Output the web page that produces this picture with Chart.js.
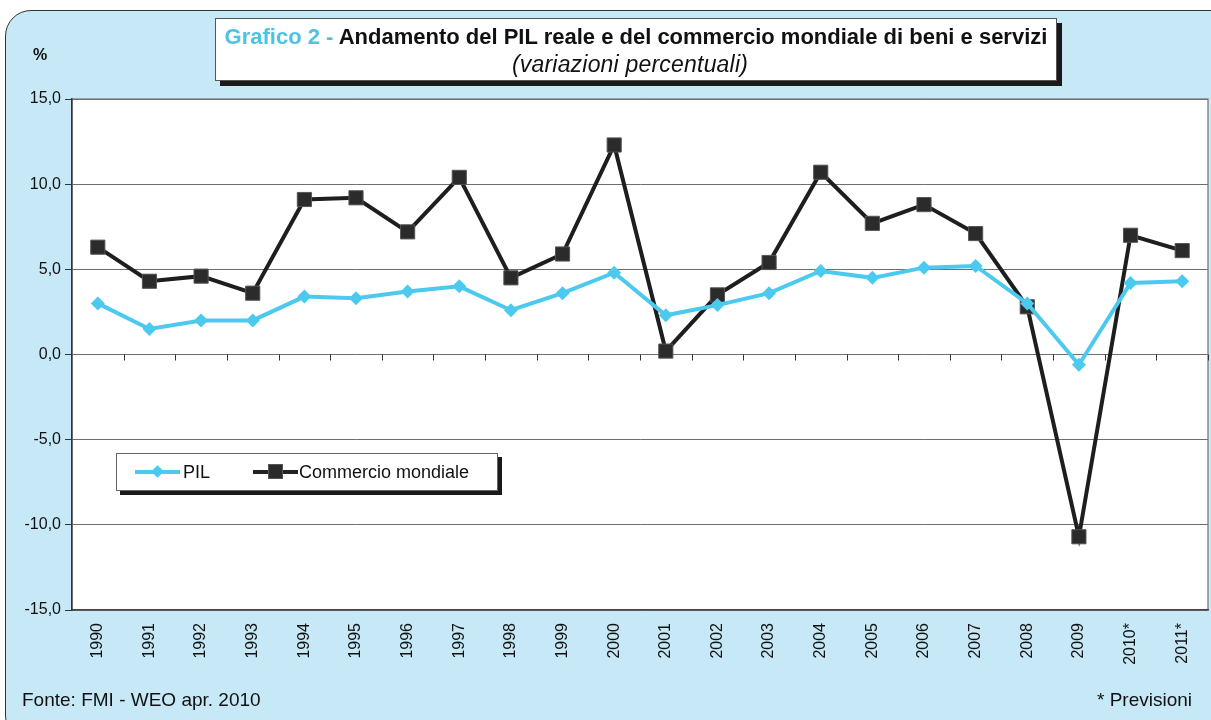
<!DOCTYPE html>
<html lang="it">
<head>
  <meta charset="UTF-8" />
  <title>Grafico 2 - PIL e commercio mondiale</title>
  <script src="https://cdn.jsdelivr.net/npm/chart.js"></script>
  <style>
    html, body { margin: 0; padding: 0; background: #fff; }
    body { width: 1211px; height: 720px; position: relative; overflow: hidden; font-family: "Liberation Sans", Arial, sans-serif; }
    .panel { position: absolute; left: 5px; top: 10px; width: 1230px; height: 730px; background: #c6e8f7; border: 1px solid #333; border-radius: 26px; }
    #wrap { position: absolute; left: 0; top: 0; width: 1219px; height: 720px; }
    .titlebox { position: absolute; left: 215px; top: 18px; width: 840px; height: 61px; background: #fff; border: 1px solid #555; box-shadow: 5px 5px 0 #1a1a1a; text-align: center; }
    .t1 { font-weight: bold; font-size: 22px; margin-top: 5px; color: #111; letter-spacing: 0px; }
    .t1 span { color: #4cc3e4; }
    .t2 { font-style: italic; font-size: 23px; margin-top: 1px; padding-right: 12px; color: #111; letter-spacing: 0.2px; }
    .pct { position: absolute; left: 33px; top: 46px; font-size: 16px; font-weight: bold; color: #111; }
    .fonte { position: absolute; left: 22px; top: 689px; font-size: 19px; color: #111; }
    .prev { position: absolute; right: 19px; top: 689px; font-size: 19px; color: #111; }
    .legend { position: absolute; left: 116px; top: 453px; width: 380px; height: 36px; background: #fff; border: 1px solid #666; box-shadow: 4px 4px 0 #1a1a1a; font-size: 18px; color: #111; }
    .lg { position: absolute; top: 0; height: 36px; line-height: 36px; }
    .ln { position: absolute; top: 16px; height: 4px; width: 45px; }
    .dia { position: absolute; width: 9px; height: 9px; background: #4cc9ef; transform: rotate(45deg); top: -3px; left: 18px; }
    .sq { position: absolute; width: 13px; height: 13px; background: #2b2b2b; border: 1px solid #555; top: -6px; left: 15px; }
  </style>
</head>
<body>
  <div class="panel"></div>
  <div id="wrap"><canvas id="grafico" width="1219" height="720"></canvas></div>
  <div class="pct">%</div>
  <div class="titlebox">
    <div class="t1"><span>Grafico 2 -</span> Andamento del PIL reale e del commercio mondiale di beni e servizi</div>
    <div class="t2">(variazioni percentuali)</div>
  </div>
  <div class="legend">
    <div class="ln" style="left:18px;background:#4cc9ef;"><div class="dia"></div></div>
    <div class="lg" style="left:66px;">PIL</div>
    <div class="ln" style="left:136px;background:#222;"><div class="sq"></div></div>
    <div class="lg" style="left:182px;">Commercio mondiale</div>
  </div>
  <div class="fonte">Fonte: FMI - WEO apr. 2010</div>
  <div class="prev">* Previsioni</div>

  <script>
    const anni = ['1990','1991','1992','1993','1994','1995','1996','1997','1998','1999','2000',
                  '2001','2002','2003','2004','2005','2006','2007','2008','2009','2010*','2011*'];
    const pil = [3.0, 1.5, 2.0, 2.0, 3.4, 3.3, 3.7, 4.0, 2.6, 3.6, 4.8,
                 2.3, 2.9, 3.6, 4.9, 4.5, 5.1, 5.2, 3.0, -0.6, 4.2, 4.3];
    const commercio = [6.3, 4.3, 4.6, 3.6, 9.1, 9.2, 7.2, 10.4, 4.5, 5.9, 12.3,
                       0.2, 3.5, 5.4, 10.7, 7.7, 8.8, 7.1, 2.8, -10.7, 7.0, 6.1];
    const yMin = -15, yMax = 15, yStep = 5;

    // sfondo bianco dell'area grafico + tacche sull'asse dello zero
    const areaPlugin = {
      id: 'area',
      beforeDraw(chart) {
        const { ctx, chartArea: a } = chart;
        ctx.save();
        ctx.fillStyle = '#fff';
        ctx.fillRect(a.left, a.top, a.right - a.left, a.bottom - a.top);
        ctx.strokeStyle = '#8a8a8a';
        ctx.lineWidth = 1.5;
        ctx.strokeRect(a.left, a.top, a.right - a.left, a.bottom - a.top);
        ctx.restore();
      },
      beforeDatasetsDraw(chart) {
        const { ctx, scales: { x, y } } = chart;
        const y0 = y.getPixelForValue(0);
        const half = (x.getPixelForValue(1) - x.getPixelForValue(0)) / 2;
        ctx.save();
        ctx.strokeStyle = '#333';
        ctx.lineWidth = 1;
        for (let i = 0; i < anni.length; i++) {
          const px = Math.round(x.getPixelForValue(i) + half) + 0.5;
          ctx.beginPath();
          ctx.moveTo(px, y0);
          ctx.lineTo(px, y0 + 6);
          ctx.stroke();
        }
        ctx.restore();
      }
    };

    new Chart(document.getElementById('grafico'), {
      type: 'line',
      data: {
        labels: anni,
        datasets: [
          {
            label: 'PIL',
            data: pil,
            borderColor: '#4cc9ef',
            backgroundColor: '#4cc9ef',
            borderWidth: 4,
            pointStyle: 'rectRot',
            pointRadius: 7,
            pointBorderWidth: 0,
            tension: 0
          },
          {
            label: 'Commercio mondiale',
            data: commercio,
            borderColor: '#1e1e1e',
            backgroundColor: '#2b2b2b',
            pointBorderColor: '#555',
            borderWidth: 4,
            pointStyle: 'rect',
            pointRadius: 10,
            pointBorderWidth: 1,
            tension: 0
          }
        ]
      },
      options: {
        responsive: false,
        animation: false,
        layout: { padding: { top: 99, right: 0, left: 0, bottom: 0 } },
        plugins: { legend: { display: false }, tooltip: { enabled: false } },
        scales: {
          x: {
            offset: true,
            grid: { display: false },
            border: { color: '#444', width: 1.5 },
            ticks: {
              autoSkip: false, minRotation: 90, maxRotation: 90,
              padding: 5, color: '#111',
              font: { family: 'Liberation Sans', size: 16 }
            },
            afterFit(s) { s.height = 110; }
          },
          y: {
            min: yMin, max: yMax,
            grid: { color: '#6e6e6e', lineWidth: 1, tickLength: 7, tickColor: '#333' },
            border: { color: '#333', width: 1.5 },
            ticks: {
              stepSize: yStep, padding: 4, color: '#111',
              font: { family: 'Liberation Sans', size: 16 },
              callback: v => v.toFixed(1).replace('.', ',')
            },
            afterFit(s) { s.width = 72; }
          }
        }
      },
      plugins: [areaPlugin]
    });
  </script>
</body>
</html>
